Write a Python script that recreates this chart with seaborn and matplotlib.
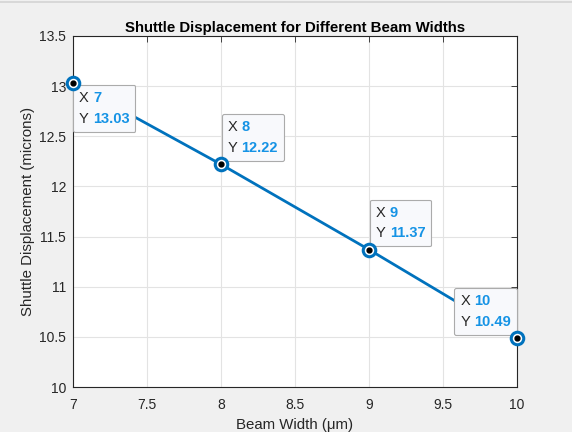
import numpy as np
import pandas as pd
import matplotlib
matplotlib.use("Agg")
import matplotlib.pyplot as plt
import seaborn as sns
from matplotlib.lines import Line2D
from matplotlib.offsetbox import TextArea, HPacker, VPacker, AnnotationBbox

beam_width = [7, 8, 9, 10]
displacement = [13.03, 12.22, 11.37, 10.49]
tip_labels = ["7", "8", "9", "10"]
disp_labels = ["13.03", "12.22", "11.37", "10.49"]

x_ticks = [7, 7.5, 8, 8.5, 9, 9.5, 10]
x_tick_labels = ["7", "7.5", "8", "8.5", "9", "9.5", "10"]
y_ticks = [10, 10.5, 11, 11.5, 12, 12.5, 13, 13.5]
y_tick_labels = ["10", "10.5", "11", "11.5", "12", "12.5", "13", "13.5"]

line_color = "#0072BD"
tip_color = "#1593E5"
text_color = "#262626"

sns.set_style("white")
plt.rcParams["font.family"] = ["Liberation Sans", "DejaVu Sans"]

df = pd.DataFrame({"width": beam_width, "disp": displacement})

fig = plt.figure(figsize=(5.72, 4.32), dpi=100, facecolor="#f0f0f0")
fig.add_artist(Line2D([0, 1], [0.996, 0.996], color="#d4d4d4", linewidth=1.2))
ax = fig.add_axes([0.1276, 0.104, 0.904 - 0.1276, 0.9167 - 0.104])
ax.set_facecolor("white")

sns.lineplot(data=df, x="width", y="disp", color=line_color, linewidth=2, ax=ax,
             zorder=3)
ax.plot(beam_width, displacement, linestyle="none", marker="o", markersize=9,
        markerfacecolor="white", markeredgecolor=line_color, markeredgewidth=2.2,
        zorder=6, clip_on=False)
ax.plot(beam_width, displacement, linestyle="none", marker="o", markersize=3.5,
        color="black", zorder=7, clip_on=False)

ax.set_xlim(7, 10)
ax.set_ylim(10, 13.5)
ax.set_xticks(x_ticks)
ax.set_xticklabels(x_tick_labels)
ax.set_yticks(y_ticks)
ax.set_yticklabels(y_tick_labels)
ax.grid(True, color="#e3e3e3", linewidth=0.8)
ax.set_axisbelow(True)
ax.tick_params(direction="in", length=4, width=0.6, colors=text_color,
               labelsize=10, top=True, right=True)
ax.tick_params(axis="x", pad=8)
ax.tick_params(axis="y", pad=5)
for sp in ax.spines.values():
    sp.set_color(text_color)
    sp.set_linewidth(0.8)

ax.set_title("Shuttle Displacement for Different Beam Widths", fontsize=10.8,
             fontweight="bold", color="black", pad=3)
ax.set_xlabel("Beam Width (\u03bcm)", fontsize=10.8, color=text_color, labelpad=4)
ax.set_ylabel("Shuttle Displacement (microns)", fontsize=10.8, color=text_color,
              labelpad=3)

# data tip placement: (box alignment, offset in points)
placements = [((0, 1), (4.4, -5.8)), ((0, 0), (4.8, 6.6)), ((0, 0), (4.8, 6.6)),
              ((1, 0), (-4.4, 6.6))]


def tip_row(name, value):
    return HPacker(children=[
        TextArea(name, textprops=dict(color=text_color, fontsize=10.5)),
        TextArea(value, textprops=dict(color=tip_color, fontsize=10.5,
                                       fontweight="bold")),
    ], align="baseline", pad=0, sep=3)


for i in range(len(beam_width)):
    box = VPacker(children=[tip_row("X", tip_labels[i]), tip_row("Y", disp_labels[i])],
                  align="left", pad=0, sep=5)
    align, offset = placements[i]
    ab = AnnotationBbox(box, (beam_width[i], displacement[i]), xybox=offset,
                        boxcoords="offset points", box_alignment=align, frameon=True,
                        pad=0.42,
                        bboxprops=dict(boxstyle="round,pad=0.42,rounding_size=0.12",
                                       facecolor="#f8f9fc", edgecolor="#ababab",
                                       linewidth=0.8),
                        annotation_clip=False, zorder=5)
    ax.add_artist(ab)

fig.savefig("out.png", dpi=100, facecolor=fig.get_facecolor())
